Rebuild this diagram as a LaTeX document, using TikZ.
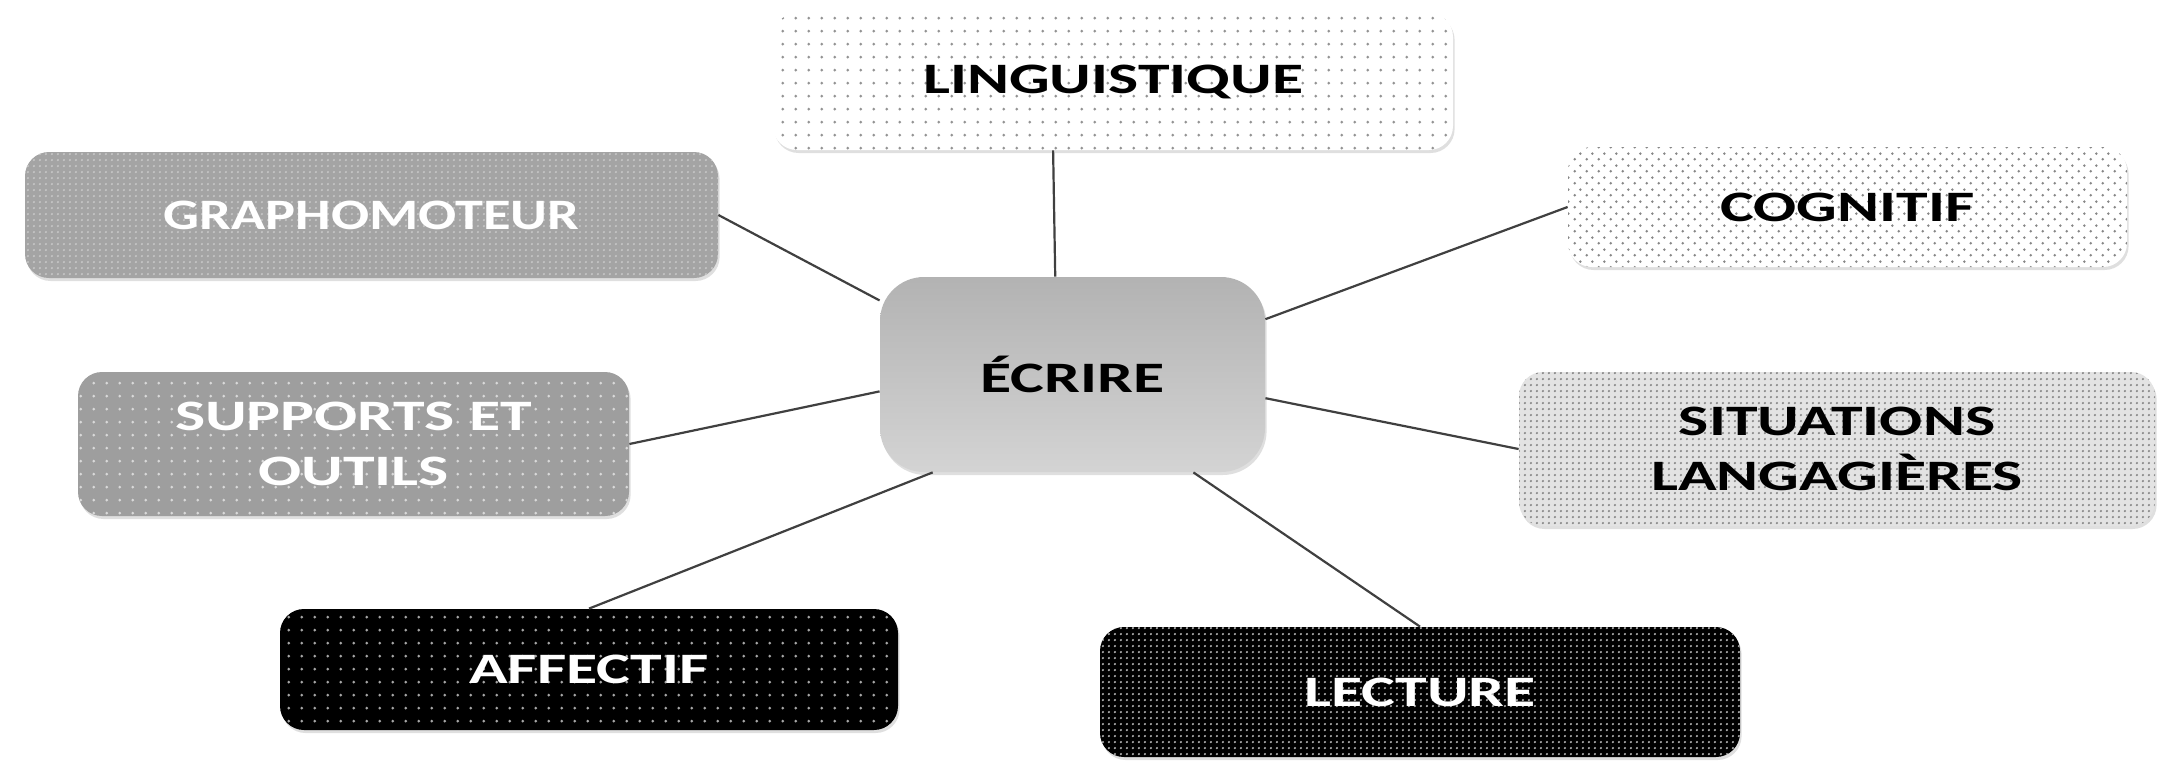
\documentclass[tikz,border=0pt]{standalone}
\usepackage{fontspec}
\newfontfamily\widefont[FakeStretch=1.47]{Carlito}
\newfontfamily\narrowfont[FakeStretch=1.3]{Carlito}
\usetikzlibrary{patterns,shadows}
\pgfdeclarepatternformonly{sparsedots}{\pgfqpoint{0pt}{0pt}}{\pgfqpoint{6.5pt}{6.5pt}}{\pgfqpoint{6.5pt}{6.5pt}}{\pgfpathcircle{\pgfqpoint{1.5pt}{1.5pt}}{0.8pt}\pgfusepath{fill}}
\pgfdeclarepatternformonly{offsetdots}{\pgfqpoint{0pt}{0pt}}{\pgfqpoint{6pt}{6pt}}{\pgfqpoint{6pt}{6pt}}{\pgfpathcircle{\pgfqpoint{1.5pt}{1.5pt}}{0.75pt}\pgfpathcircle{\pgfqpoint{4.5pt}{4.5pt}}{0.75pt}\pgfusepath{fill}}
\pgfdeclarepatternformonly{densedots}{\pgfqpoint{0pt}{0pt}}{\pgfqpoint{3.2pt}{3.2pt}}{\pgfqpoint{3.2pt}{3.2pt}}{\pgfpathcircle{\pgfqpoint{1.6pt}{1.6pt}}{0.65pt}\pgfusepath{fill}}
\definecolor{conncol}{HTML}{404040}
\definecolor{midgrey}{HTML}{A4A4A4}
\tikzset{
  box/.style={rounded corners=12pt, inner sep=0pt, align=center,
    font=\widefont\bfseries\fontsize{21.7}{27.5}\selectfont,
    drop shadow={opacity=0.25, shadow xshift=0.8pt, shadow yshift=-1.5pt}},
  pat/.style 2 args={postaction={pattern=#1, pattern color=#2}},
  conn/.style={draw=conncol, line width=1.1pt},
}
\begin{document}
\begin{tikzpicture}[x=0.5pt, y=-0.5pt]
\useasboundingbox[fill=white] (0,0) rectangle (2159,762);
% nodes
\node[box, fill=white, pat={sparsedots}{gray!85}, minimum width=340pt, minimum height=68.5pt] (ling) at (1113,81.5) {LINGUISTIQUE};
\node[box, fill=midgrey, pat={densedots}{gray!45}, text=white, font=\narrowfont\bfseries\fontsize{21.7}{27.5}\selectfont, minimum width=346.5pt, minimum height=63pt] (grapho) at (371.5,215) {GRAPHOMOTEUR};
\node[box, fill=white, pat={offsetdots}{gray!95}, minimum width=279.5pt, minimum height=60pt] (cogn) at (1847.5,207) {COGNITIF};
\node[box, rounded corners=22pt, top color=black!30, middle color=black!34, bottom color=black!17, minimum width=192.5pt, minimum height=97.5pt] (ecr) at (1072.5,374.5) {ÉCRIRE};
\node[box, fill=black!38, pat={sparsedots}{gray!30}, text=white, minimum width=275.5pt, minimum height=72pt] (supp) at (353.5,444) {SUPPORTS ET\\OUTILS};
\node[box, fill=gray!22, pat={densedots}{gray!95}, minimum width=318pt, minimum height=77pt] (situ) at (1837,449) {SITUATIONS\\LANGAGIÈRES};
\node[box, fill=black, pat={sparsedots}{gray!70}, text=white, minimum width=309pt, minimum height=60.5pt] (aff) at (589,669.5) {AFFECTIF};
\node[box, fill=black, pat={densedots}{gray!60}, text=white, minimum width=320pt, minimum height=65pt] (lect) at (1420,692) {LECTURE};
% connectors
\draw[conn] (ecr.100.7) -- (ling.229.3);
\draw[conn] (ecr.159.6) -- (grapho.east);
\draw[conn] (ecr.16.6) -- (cogn.west);
\draw[conn] (ecr.185.5) -- (supp.east);
\draw[conn] (ecr.-7.8) -- (situ.west);
\draw[conn] (ecr.215.7) -- (aff.north);
\draw[conn] (ecr.-39) -- (lect.north);
\end{tikzpicture}
\end{document}
